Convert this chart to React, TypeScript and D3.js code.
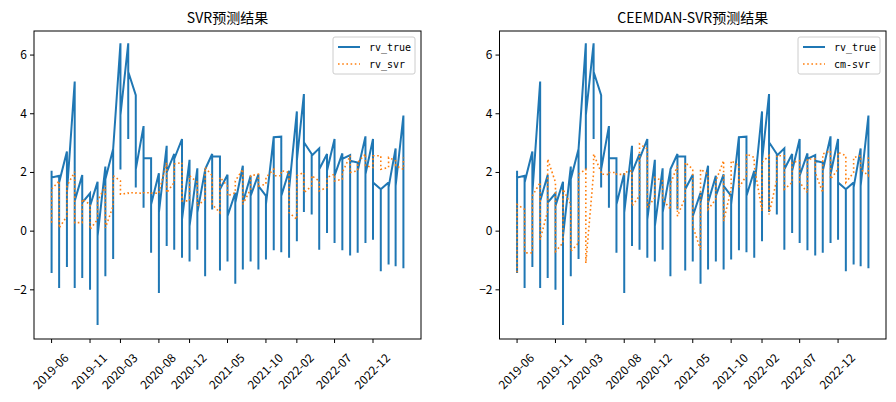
import React from "react";
import * as d3 from "d3";

const startMonth = "2019-06";
const trueTop = [2.06,1.89,2.71,5.1,1.91,1.29,1.68,2.2,2.8,6.4,6.4,4.63,3.58,2.48,1.97,2.91,2.63,3.14,2.43,2.14,2.09,2.63,2.54,1.92,1.31,2.23,1.89,1.94,1.2,3.22,3.22,2.06,4.08,4.67,2.63,2.82,2.63,3.14,2.65,2.59,2.34,3.23,3.14,1.43,1.66,2.82,3.94];
const trueBottom = [-1.43,-1.94,-1.22,-1.94,-1.6,-2.0,-3.2,-1.54,-0.95,2.1,3.14,1.49,0.8,-0.74,-2.11,-0.51,-0.63,-0.91,-1.03,-0.63,-1.54,0.74,-1.34,-1.03,-1.79,-1.31,-1.03,-1.31,-0.97,-0.65,-0.72,-0.91,-0.34,0.65,0.57,-0.63,-0.06,-0.4,-0.65,-0.83,-0.74,-0.4,-0.29,-1.37,-1.14,-1.2,-1.26];
const trueMid = [1.83,1.66,1.31,1.03,0.97,0.86,-0.17,1.77,2.8,3.95,5.43,2.11,2.48,0.91,0.63,2.0,2.46,0.4,0.17,0.63,2.11,2.54,1.43,0.51,0.97,0.97,1.2,1.54,0.91,3.2,1.2,1.43,2.4,3.03,2.57,2.11,2.06,1.89,2.46,2.4,2.06,1.94,1.66,1.43,1.49,1.54,1.6];
const svrTop = [1.43,1.71,1.54,2.02,1.09,0.91,1.03,1.54,1.89,1.71,1.31,1.31,1.31,1.31,1.31,2.34,2.29,2.34,1.89,1.66,2.17,1.89,1.83,1.54,1.71,2.11,1.89,1.94,1.83,2.11,2.06,2.0,1.89,2.0,1.89,1.71,1.83,1.94,2.0,2.57,2.34,2.63,2.57,2.57,2.51,2.4,2.51];
const svrBottom = [0.29,0.11,0.51,0.29,0.29,0.06,0.4,0.11,0.86,1.26,1.29,1.3,1.29,1.3,1.29,1.31,1.66,1.03,1.03,0.86,1.09,0.91,0.63,1.2,1.31,0.91,1.43,1.54,1.6,1.89,1.89,0.63,0.4,1.31,1.54,1.37,1.49,1.71,1.77,2.0,2.06,2.23,2.17,2.11,2.17,2.23,2.11];
const cmTop = [0.91,0.74,1.2,1.66,2.46,1.66,1.43,0.91,1.94,2.11,2.63,2.0,2.0,2.0,2.0,2.06,2.97,2.8,1.83,1.71,1.6,2.23,2.34,2.11,2.11,1.94,1.71,2.4,2.4,2.23,2.63,2.51,2.34,2.57,2.57,2.57,2.34,2.4,2.46,2.46,2.63,2.74,2.69,2.57,2.51,2.57,2.57];
const cmBottom = [-1.4,-0.74,-0.74,-0.29,0.69,-0.69,-0.4,-0.69,-0.4,-1.09,2.0,1.94,1.93,1.94,1.93,0.86,1.2,0.8,1.14,1.09,0.74,0.51,1.14,0.17,-0.63,0.74,1.09,0.34,1.43,1.49,1.89,2.23,0.69,0.57,1.77,1.43,1.66,1.66,1.31,2.0,1.31,1.77,2.11,1.66,2.0,2.11,1.89];
const tickLabels = ["2019-06","2019-11","2020-03","2020-08","2020-12","2021-05","2021-10","2022-02","2022-07","2022-12"];

const parse = d3.timeParse("%Y-%m");
const start = parse(startMonth)!;
const dates = trueTop.map((_, i) => d3.timeMonth.offset(start, i));

type P = [Date, number];
const truePath: P[] = [];
dates.forEach((d, i) => { truePath.push([d, trueTop[i]], [d, trueBottom[i]], [d, trueMid[i]]); });
function predPath(top: number[], bot: number[]): P[] {
  const out: P[] = [];
  dates.forEach((d, i) => {
    if (i % 2 === 0) out.push([d, bot[i]], [d, top[i]]);
    else out.push([d, top[i]], [d, bot[i]]);
  });
  return out;
}
const svrPath = predPath(svrTop, svrBottom);
const cmPath = predPath(cmTop, cmBottom);

const FONT = "'Noto Sans CJK SC'";
const MONO = "'DejaVu Sans Mono', monospace";

function Panel({ x0, x1, title, pred, predLabel }: { x0: number; x1: number; title: string; pred: P[]; predLabel: string }) {
  const top = 31, bottom = 339;
  const d0 = dates[0], dN = dates[dates.length - 1];
  const span = +dN - +d0;
  const x = d3.scaleTime().domain([new Date(+d0 - span * 0.05), new Date(+dN + span * 0.05)]).range([x0, x1]);
  const y = d3.scaleLinear().domain([-3.675, 6.82]).range([bottom, top]);
  const line = d3.line<P>().x(p => x(p[0])).y(p => y(p[1]));
  const yt = [-2, 0, 2, 4, 6];
  const lx = x1 - 88;
  return (
    <g>
      <text x={(x0 + x1) / 2} y={23} textAnchor="middle" fontSize={14} fontFamily={FONT} fill="#000">{title}</text>
      <path d={line(truePath)!} fill="none" stroke="#1f77b4" strokeWidth={2} />
      <path d={line(pred)!} fill="none" stroke="#ff7f0e" strokeWidth={1.6} strokeDasharray="1.6,2.6" />
      <rect x={x0} y={top} width={x1 - x0} height={bottom - top} fill="none" stroke="#000" strokeWidth={1} />
      {yt.map(v => (
        <g key={v}>
          <line x1={x0 - 4} x2={x0} y1={y(v)} y2={y(v)} stroke="#000" />
          <text x={x0 - 7} y={y(v) + 4} textAnchor="end" fontSize={12} fontFamily={FONT}>{v < 0 ? "\u2212" + -v : v}</text>
        </g>
      ))}
      {tickLabels.map(t => {
        const tx = x(parse(t)!);
        return (
          <g key={t}>
            <line x1={tx} x2={tx} y1={bottom} y2={bottom + 4} stroke="#000" />
            <text transform={`translate(${tx},${bottom + 33}) rotate(-45)`} textAnchor="middle" dominantBaseline="middle" fontSize={12} fontFamily={FONT}>{t}</text>
          </g>
        );
      })}
      <rect x={lx} y={37} width={82} height={37} rx={2} fill="#fff" fillOpacity={0.8} stroke="#ccc" />
      <line x1={lx + 5} x2={lx + 27} y1={47} y2={47} stroke="#1f77b4" strokeWidth={2} />
      <text x={lx + 36} y={51} fontSize={10} fontFamily={MONO}>rv_true</text>
      <line x1={lx + 5} x2={lx + 27} y1={64} y2={64} stroke="#ff7f0e" strokeWidth={1.6} strokeDasharray="1.6,2.6" />
      <text x={lx + 36} y={68} fontSize={10} fontFamily={MONO}>{predLabel}</text>
    </g>
  );
}

export default function App() {
  return (
    <svg width={896} height={402} style={{ position: "absolute", left: 0, top: 0, background: "#fff" }}>
      <rect width={896} height={402} fill="#fff" />
      <Panel x0={34} x1={421} title="SVR预测结果" pred={svrPath} predLabel="rv_svr" />
      <Panel x0={499.5} x1={886} title="CEEMDAN-SVR预测结果" pred={cmPath} predLabel="cm-svr" />
    </svg>
  );
}
